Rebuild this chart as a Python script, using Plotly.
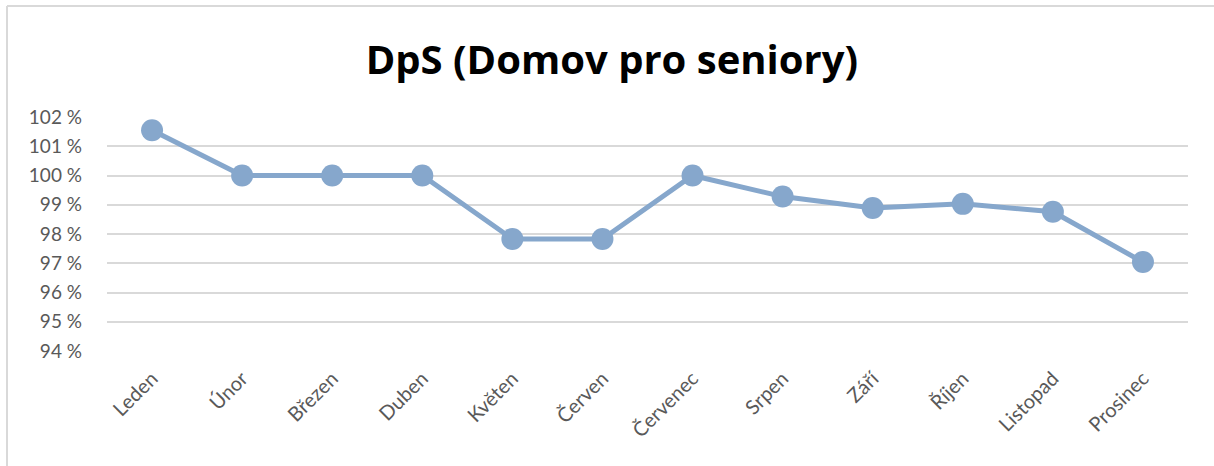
import plotly.graph_objects as go

months = ["Leden", "Únor", "Březen", "Duben", "Květen", "Červen",
          "Červenec", "Srpen", "Září", "Říjen", "Listopad", "Prosinec"]
values = [101.55, 100.0, 100.0, 100.0, 97.83, 97.83,
          100.0, 99.28, 98.89, 99.03, 98.76, 97.04]
y_ticks = [94, 95, 96, 97, 98, 99, 100, 101, 102]
y_labels = ["94 %", "95 %", "96 %", "97 %", "98 %", "99 %", "100 %", "101 %", "102 %"]
title_text = "DpS (Domov pro seniory)"

W, H = 1214, 466
L, R, T, B = 107, 1188, 117, 351

fig = go.Figure()
fig.add_trace(go.Scatter(
    x=months, y=values, mode="lines+markers",
    line=dict(color="#86A7CC", width=5),
    marker=dict(color="#86A7CC", size=22),
    hoverinfo="x+y",
))

def px(x):
    return (x - L) / (R - L)

def py(y):
    return (B - y) / (B - T)

fig.update_layout(
    width=W, height=H,
    margin=dict(l=L, r=W - R, t=T, b=H - B, pad=0),
    paper_bgcolor="white", plot_bgcolor="white",
    showlegend=False,
    font=dict(family="Lato, 'Open Sans', sans-serif", color="#595959", size=19),
    title=dict(text="<b>" + title_text + "</b>", x=0.504, xanchor="center",
               xref="container", y=1 - 60 / H, yanchor="middle",
               font=dict(family="'Open Sans', sans-serif", size=40, color="#000000")),
    xaxis=dict(showgrid=False, showline=False, zeroline=False, ticks="",
               tickangle=-45, range=[-0.5, 11.5], tickfont=dict(size=20),
               ticklabelstandoff=11),
    yaxis=dict(range=[94, 102], tickmode="array", tickvals=y_ticks, ticktext=y_labels,
               showgrid=True, gridcolor="#D9D9D9", gridwidth=1.5,
               zeroline=False, showline=False, ticks="",
               ticklabelstandoff=24, tickfont=dict(size=19)),
    shapes=[
        dict(type="line", xref="paper", yref="paper",
             x0=px(7), x1=px(1214), y0=py(6), y1=py(6),
             line=dict(color="#D9D9D9", width=2)),
        dict(type="line", xref="paper", yref="paper",
             x0=px(7), x1=px(7), y0=py(6), y1=py(466),
             line=dict(color="#D9D9D9", width=2)),
    ],
)

fig.write_html("out.html", config={"displayModeBar": False},
               post_script="document.body.style.margin='0';document.body.style.overflow='hidden';")
